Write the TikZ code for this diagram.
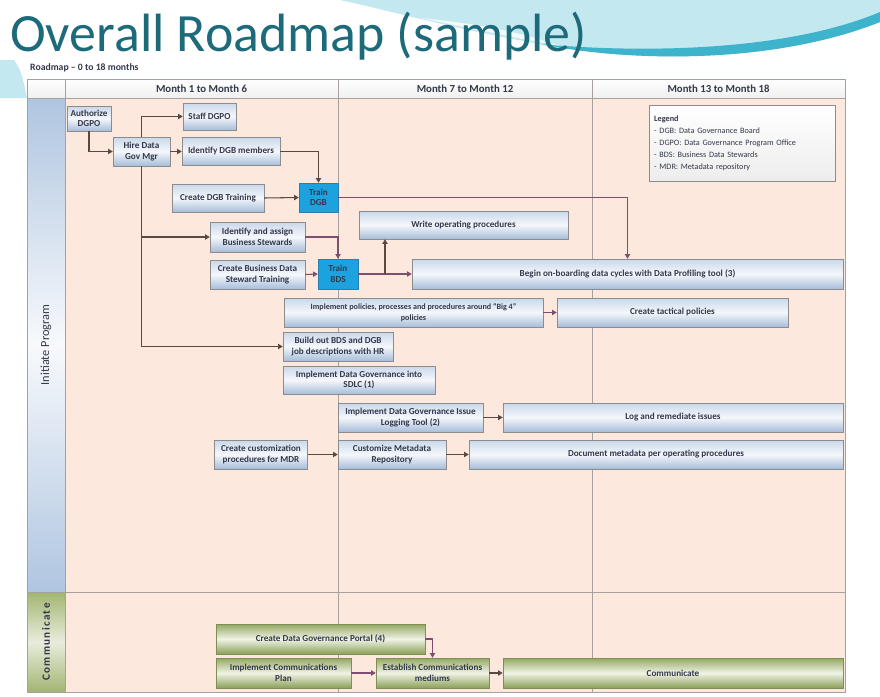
\documentclass[tikz,border=0pt]{standalone}
\usepackage{fontspec}
\setmainfont{Carlito}
\usetikzlibrary{positioning,arrows.meta,calc}

\definecolor{titleteal}{HTML}{1D6A7A}
\definecolor{swooshlight}{HTML}{C4E8F0}
\definecolor{swooshdark}{HTML}{3DB3CC}
\definecolor{peach}{HTML}{FCE8DC}
\definecolor{gridline}{HTML}{A8A09C}
\definecolor{boxgray}{HTML}{8C8C8C}
\definecolor{boxtext}{HTML}{33384A}
\definecolor{taskTop}{HTML}{C9D8EA}
\definecolor{taskMid}{HTML}{F5F7FB}
\definecolor{taskBot}{HTML}{A6BDD9}
\definecolor{trainblue}{HTML}{1CA2DF}
\definecolor{trainedge}{HTML}{2A7DAE}
\definecolor{commTop}{HTML}{93A862}
\definecolor{commMid}{HTML}{F0F3E6}
\definecolor{commBot}{HTML}{8BA058}
\definecolor{commedge}{HTML}{7D8F52}
\definecolor{laneblue}{HTML}{AFC5E0}
\definecolor{lanegreen}{HTML}{A2B572}
\definecolor{arrbrown}{HTML}{5A4842}
\definecolor{arrpurple}{HTML}{7E4D70}

\newcommand{\boxfont}{\bfseries\fontsize{7.8}{9}\selectfont}

\begin{document}
\begin{tikzpicture}[x=0.3mm, y=-0.3mm,
  task/.style={draw=boxgray, top color=taskTop, bottom color=taskBot, middle color=taskMid,
    align=center, inner sep=1pt, font=\boxfont, text=boxtext},
  train/.style={draw=trainedge, fill=trainblue, align=center, inner sep=1pt, font=\boxfont, text=boxtext},
  comm/.style={draw=commedge, top color=commTop, bottom color=commBot, middle color=commMid,
    align=center, inner sep=1pt, font=\boxfont, text=boxtext},
  head/.style={draw=gridline, top color=white, bottom color=gray!12, font=\bfseries\fontsize{9.2}{11}\selectfont, text=boxtext},
  wh/.style 2 args={minimum width=#1*\pxu, minimum height=#2*\pxu},
  arr/.style={draw=arrbrown, line width=0.9pt, -{Triangle[length=4pt,width=4.5pt]}},
  parr/.style={arr, draw=arrpurple},
  grid/.style={draw=gridline, line width=0.5pt}]

% Sizes
\def\pxu{0.3mm}

\useasboundingbox (0,0) rectangle (880,696);

% Title swoosh
\fill[swooshlight] (340,0) -- (880,0) -- (880,22) .. controls (780,62) and (640,64) .. (540,44)
  .. controls (450,28) and (395,12) .. (340,0) -- cycle;
\fill[swooshdark] (880,22) .. controls (780,62) and (640,64) .. (540,44)
  .. controls (650,54) and (790,50) .. (880,12) -- cycle;
\fill[white, opacity=0.8] (420,18) .. controls (480,24) and (520,32) .. (560,46)
  .. controls (515,38) and (470,28) .. (420,18) -- cycle;
\fill[swooshlight] (0,60) -- (14,60) .. controls (22,70) and (24,84) .. (27,98) -- (0,98) -- cycle;

\node[anchor=west, font=\fontsize{46}{50}\selectfont, text=titleteal, inner sep=0pt] (title) at (10,36) {Overall Roadmap (sample)};
\node[anchor=west, font=\bfseries\fontsize{8.3}{10}\selectfont, text=boxtext, inner sep=0pt] (subtitle) at (30,68) {Roadmap – 0 to 18 months};

% Table body
\fill[peach] (65,98) rectangle (845,692);
\node[draw=gridline, top color=white, bottom color=gray!12, wh={38}{19}] (corner) at (46,88.5) {};
\foreach \xa/\xb/\text in {65/338/Month 1 to Month 6, 338/592/Month 7 to Month 12, 592/845/Month 13 to Month 18} {
  \node[head, minimum width=(\xb-\xa)*\pxu, minimum height=19*\pxu] (head\xa) at ({(\xa+\xb)/2},88.5) {\text};
}
\foreach \x in {338, 592} {
  \draw[grid] (\x,98) -- (\x,692);
}
\draw[grid] (27,592) -- (845,592);
\draw[grid] (27,79) rectangle (845,692);

% Swim lanes
\node[draw=gridline, rotate=90, top color=laneblue, bottom color=laneblue, middle color=white!90!laneblue,
      wh={494}{38}, font=\fontsize{10.5}{12}\selectfont, text=boxtext] (laneInit) at (46,345) {Initiate Program};
\node[draw=gridline, rotate=90, top color=lanegreen, bottom color=lanegreen, middle color=white!75!lanegreen,
      wh={100}{38}, font=\bfseries\fontsize{9.5}{11}\selectfont\addfontfeature{LetterSpace=12}, text=boxtext] (laneComm) at (46,642) {Communicate};

% Month 1 to Month 6
\node[task, wh={44}{25}] (auth) at (89,118.5) {Authorize\\DGPO};
\node[task, wh={57}{29}] (hire) at (141.5,151.5) {Hire Data\\Gov Mgr};
\node[task, wh={53}{27}] (staff) at (209.5,116.5) {Staff DGPO};
\node[task, wh={98}{28}] (idDGB) at (231,151.5) {Identify DGB members};
\node[task, wh={92}{28}] (crDGB) at (218,198) {Create DGB Training};
\node[train, wh={39}{29}] (trDGB) at (318.5,197.5) {Train\\DGB};
\node[task, wh={95}{30}] (idBS) at (257.5,237) {Identify and assign\\Business Stewards};
\node[task, wh={95}{29}] (crBDS) at (257.5,274.5) {Create Business Data\\Steward Training};
\node[train, wh={40}{30}] (trBDS) at (338,274) {Train\\BDS};
\node[task, wh={110}{29}] (build) at (338,346.5) {Build out BDS and DGB\\job descriptions with HR};
\node[task, wh={152}{28}] (sdlc) at (359,380) {Implement Data Governance into\\SDLC (1)};
\node[task, wh={93}{29}] (crMDR) at (261,454.5) {Create customization\\procedures for MDR};

% Month 7 to Month 18
\node[task, wh={209}{28}] (write) at (463.5,225) {Write operating procedures};
\node[task, wh={431}{30}] (begin) at (627.5,274) {Begin on-boarding data cycles with Data Profiling tool (3)};
\node[task, wh={259}{29}, font=\bfseries\fontsize{6.9}{8.8}\selectfont] (big4) at (413.5,312.5) {Implement policies, processes and procedures around “Big 4”\\policies};
\node[task, wh={231}{29}] (tact) at (672.5,312.5) {Create tactical policies};
\node[task, wh={145}{29}] (issue) at (410.5,417.5) {Implement Data Governance Issue\\Logging Tool (2)};
\node[task, wh={340}{29}] (log) at (673,417.5) {Log and remediate issues};
\node[task, wh={108}{29}] (cust) at (392,454.5) {Customize Metadata\\Repository};
\node[task, wh={374}{29}] (doc) at (656,454.5) {Document metadata per operating procedures};

% Legend
\node[draw=boxgray, top color=white, bottom color=gray!14, anchor=north west, align=left,
      text width=176*\pxu, inner xsep=5*\pxu, minimum height=76*\pxu, font=\fontsize{7}{10.2}\selectfont, text=boxtext]
      (legend) at (649,105) {\textbf{Legend}\\- DGB: Data Governance Board\\- DGPO: Data Governance Program Office\\- BDS: Business Data Stewards\\- MDR: Metadata repository};

% Communicate
\node[comm, wh={209}{30}] (portal) at (320.5,639) {Create Data Governance Portal (4)};
\node[comm, wh={135}{30}] (implComm) at (283.5,673) {Implement Communications\\Plan};
\node[comm, wh={113}{30}] (estab) at (432.5,673) {Establish Communications\\mediums};
\node[comm, wh={340}{30}] (comm) at (673,673) {Communicate};

% Dependencies
\draw[arr] (auth.south) |- (hire.west);
\draw[arr] (hire.north) |- (staff.west);
\draw[arr] (hire.east) -- (idDGB.west);
\draw[arr] (idDGB.east) -| (trDGB.north);
\draw[arr] (crDGB.east) -- (trDGB.west);
\draw[parr] (trDGB.east) -| (begin.north);
\draw[arr] (hire.south) |- (build.west);
\draw[arr] (hire.south |- idBS.west) -- (idBS.west);
\draw[parr] (idBS.east) -| (trBDS.north);
\draw[parr] (crBDS.east) -- (trBDS.west);
\draw[parr] (trBDS.east) -- (begin.west);
\coordinate (fork) at ($(trBDS.east)!0.5!(begin.west)$);
\draw[arr] (fork) -- (fork |- write.south);
\draw[parr] (big4.east) -- (tact.west);
\draw[arr] (issue.east) -- (log.west);
\draw[arr] (crMDR.east) -- (cust.west);
\draw[arr] (cust.east) -- (doc.west);
\draw[parr] (portal.east) -| (estab.north);
\draw[parr] (implComm.east) -- (estab.west);
\draw[arr] (estab.east) -- (comm.west);

\end{tikzpicture}
\end{document}
